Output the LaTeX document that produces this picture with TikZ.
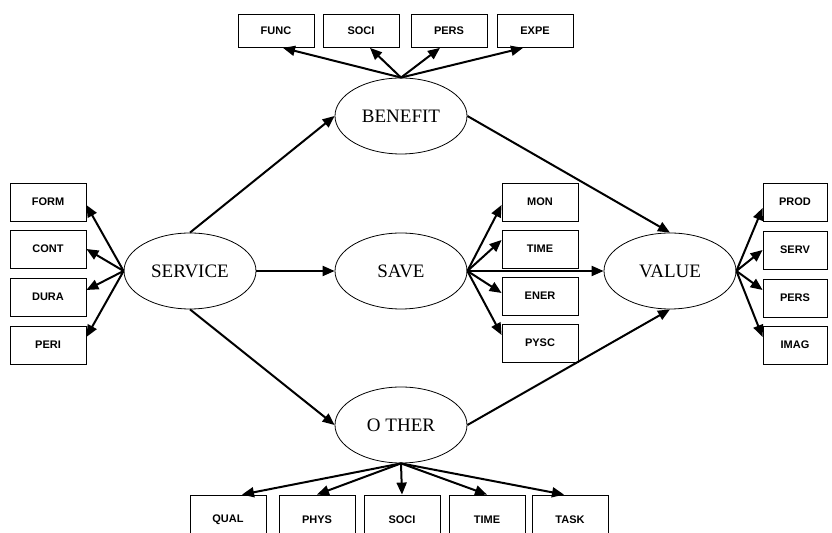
\documentclass[tikz,border=0pt]{standalone}
\usepackage{fontspec}
\setmainfont{Liberation Serif}
\setsansfont{Liberation Sans}
\usetikzlibrary{arrows.meta,shapes.geometric}

\tikzset{
  factor/.style={draw,ellipse,thin,minimum width=66pt,minimum height=38pt,inner sep=0pt,font=\fontsize{9.5}{11}\selectfont},
  item/.style={draw,rectangle,thin,minimum width=38pt,minimum height=19pt,inner sep=0pt,font=\sffamily\bfseries\fontsize{5.5}{6}\selectfont},
  topitem/.style={item,minimum height=16.5pt},
  lowitem/.style={item,minimum height=25pt}
}

\begin{document}
\begin{tikzpicture}[x=0.5pt,y=-0.5pt,->,>={Triangle[length=6pt,width=5pt]},line width=1pt]
\clip (0,0) rectangle (832,533);
\fill[white] (0,0) rectangle (832,533);

% factors
\node[factor] (service) at (190,271) {SERVICE};
\node[factor] (benefit) at (401,116) {BENEFIT};
\node[factor] (save) at (401,271) {SAVE};
\node[factor] (other) at (401,425) {O THER};
\node[factor] (value) at (670,271) {VALUE};

% items of benefit
\node[topitem] (func) at (276,31) {FUNC};
\node[topitem] (soci) at (361,31) {SOCI};
\node[topitem] (pers) at (449,31) {PERS};
\node[topitem] (expe) at (535,31) {EXPE};

% items of service
\node[item] (form) at (48,202) {FORM};
\node[item] (cont) at (48,249) {CONT};
\node[item] (dura) at (48,297) {DURA};
\node[item] (peri) at (48,345) {PERI};

% items of save
\node[item] (mon) at (540,202) {MON};
\node[item] (time) at (540,249) {TIME};
\node[item] (ener) at (540,296) {ENER};
\node[item] (pysc) at (540,343) {PYSC};

% items of value
\node[item,minimum width=32pt] (prod) at (795,202) {PROD};
\node[item,minimum width=32pt] (serv) at (795,250) {SERV};
\node[item,minimum width=32pt] (persv) at (795,298) {PERS};
\node[item,minimum width=32pt] (imag) at (795,345) {IMAG};

% items of other
\node[lowitem] (qual) at (228,520) {QUAL};
\node[lowitem] (phys) at (317,520) {PHYS};
\node[lowitem] (socio) at (402,520) {SOCI};
\node[lowitem] (timeo) at (487,520) {TIME};
\node[lowitem] (task) at (570,520) {TASK};

% main paths
\draw (service.north) -- (benefit.west);
\draw (service.east) -- (save.west);
\draw (service.south) -- (other.west);
\draw (benefit.east) -- (value.north);
\draw (save.east) -- (value.west);
\draw (other.east) -- (value.south);

% fans
\draw (benefit.north) -- ([xshift=3.5pt]func.south);
\draw (benefit.north) -- ([xshift=4.5pt]soci.south);
\draw (benefit.north) -- ([xshift=-4.5pt]pers.south);
\draw (benefit.north) -- ([xshift=-6pt]expe.south);

\draw (service.west) -- ([yshift=-1.5pt]form.east);
\draw (service.west) -- (cont.east);
\draw (service.west) -- ([yshift=3.5pt]dura.east);
\draw (service.west) -- ([yshift=4pt]peri.east);

\draw (save.east) -- ([yshift=-1.5pt]mon.west);
\draw (save.east) -- ([yshift=4.5pt]time.west);
\draw (save.east) -- ([yshift=1.5pt]ener.west);
\draw (save.east) -- ([yshift=4pt]pysc.west);

\draw (value.east) -- ([yshift=-3pt]prod.west);
\draw (value.east) -- (serv.west);
\draw (value.east) -- ([yshift=4pt]persv.west);
\draw (value.east) -- ([yshift=4pt]imag.west);

\draw (other.south) -- ([xshift=7pt]qual.north);
\draw (other.south) -- (phys.north);
\draw (other.south) -- (socio.north);
\draw (other.south) -- (timeo.north);
\draw (other.south) -- ([xshift=-3pt]task.north);
\end{tikzpicture}
\end{document}
